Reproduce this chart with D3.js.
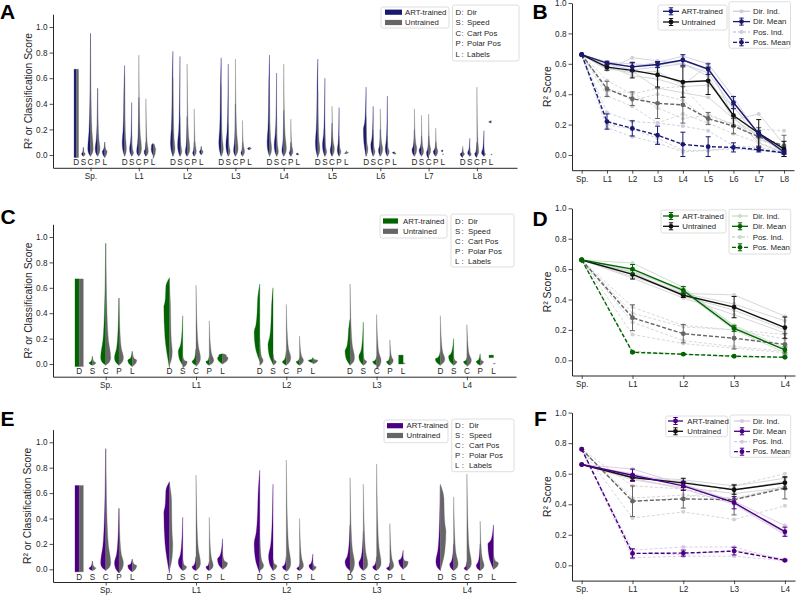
<!DOCTYPE html>
<html><head><meta charset="utf-8">
<script src="https://cdn.jsdelivr.net/npm/d3@7"></script>
<style>body{margin:0;background:#fff}</style>
</head><body><svg id="c" width="797" height="595" xmlns="http://www.w3.org/2000/svg"></svg>
<script>
// ---------------- DATA ----------------
const groupsA = ["Sp.","L1","L2","L3","L4","L5","L6","L7","L8"];
const groupsCE = ["Sp.","L1","L2","L3","L4"];
const featureCodes = ["D","S","C","P","L"];
const featureNames = ["Dir","Speed","Cart Pos","Polar Pos","Labels"];
const modelNames = ["ART-trained","Untrained"];
const yTickVals = [0,0.2,0.4,0.6,0.8,1.0];

// half-violin summaries: [low, high, mode, relative width, body fullness]
const SP_A = [[-0.02,0.67,0.1,0.75,1],[-0.01,0.06,0.01,0.6],[-0.01,0.95,0.05,0.9],[-0.01,0.52,0.05,0.8],[-0.02,0.10,0.03,0.8]];
const A_art = [SP_A,
 [[-0.01,0.70,0.1,0.8,0.2],[-0.01,0.41,0.05,0.7],[-0.01,0.45,0.03,0.7],[-0.01,0.10,0.03,0.6],[0.0,0.09,0.05,0.6,0.8]],
 [[-0.01,0.81,0.1,0.8,0.2],[-0.01,0.77,0.08,0.8],[-0.01,0.30,0.03,0.6],[-0.01,0.10,0.02,0.5],[0.0,0.07,0.03,0.6]],
 [[-0.01,0.76,0.1,0.8,0.2],[-0.01,0.71,0.08,0.8],[-0.01,0.40,0.04,0.6],[-0.01,0.10,0.02,0.5],[0.04,0.06,0.05,0.7]],
 [[-0.01,0.78,0.1,0.8,0.2],[-0.01,0.64,0.08,0.8],[-0.01,0.35,0.04,0.6],[-0.01,0.10,0.02,0.5],[0.0,0.015,0.008,0.6]],
 [[-0.02,0.75,0.1,0.8,0.2],[-0.01,0.60,0.08,0.8],[-0.01,0.25,0.04,0.6],[-0.01,0.37,0.04,0.6],[0.01,0.025,0.015,0.6]],
 [[-0.01,0.53,0.2,0.9],[-0.01,0.38,0.08,0.8],[-0.01,0.20,0.04,0.6],[-0.01,0.46,0.05,0.7],[0.01,0.025,0.018,0.7]],
 [[-0.01,0.20,0.04,0.8],[-0.01,0.15,0.04,0.8],[-0.03,0.15,0.02,0.7],[-0.01,0.10,0.03,0.8],[0.025,0.04,0.033,0.6]],
 [[-0.02,0.05,0.01,0.8],[-0.01,0.13,0.02,0.7],[-0.02,0.10,0.01,0.7],[-0.01,0.19,0.02,0.8],[0.25,0.27,0.26,0.8]]
];
const A_unt = [SP_A,
 [[-0.01,0.62,0.05,0.6],[-0.01,0.15,0.02,0.6],[-0.01,0.78,0.05,0.9],[-0.01,0.44,0.03,0.8],[-0.03,0.09,0.05,0.9,0.6]],
 [[-0.01,0.60,0.05,0.7],[-0.01,0.30,0.03,0.6],[-0.01,0.71,0.05,0.9],[-0.01,0.36,0.03,0.7],[0.0,0.06,0.03,0.6]],
 [[-0.01,0.55,0.05,0.7],[-0.01,0.25,0.03,0.6],[-0.01,0.75,0.05,0.9],[-0.01,0.27,0.03,0.7],[0.045,0.06,0.05,0.6]],
 [[-0.01,0.55,0.05,0.7],[-0.01,0.30,0.03,0.6],[-0.01,0.71,0.05,0.9],[-0.01,0.28,0.03,0.7],[0.0,0.01,0.005,0.4]],
 [[-0.01,0.50,0.05,0.7],[-0.01,0.20,0.03,0.6],[-0.01,0.38,0.05,0.8],[-0.01,0.15,0.03,0.6],[0.01,0.035,0.02,0.8]],
 [[-0.01,0.30,0.05,0.6],[-0.01,0.20,0.03,0.6],[-0.01,0.36,0.05,0.8],[-0.01,0.15,0.03,0.6],[0.005,0.02,0.012,0.5]],
 [[-0.01,0.36,0.05,0.8],[-0.01,0.31,0.03,0.7],[-0.01,0.32,0.04,0.7],[-0.01,0.21,0.03,0.7],[0.0,0.01,0.005,0.3]],
 [[-0.01,0.07,0.01,0.6],[-0.01,0.05,0.01,0.5],[-0.01,0.53,0.03,0.6],[-0.01,0.05,0.01,0.5],[0.0,0.008,0.004,0.4]]
];
const SP_C = [[-0.02,0.67,0.1,0.75,1],[-0.01,0.06,0.01,0.6],[-0.01,0.95,0.05,0.9],[-0.01,0.52,0.05,0.8],[-0.02,0.10,0.03,0.8]];
const C_art = [SP_C,
 [[-0.03,0.68,0.45,1.0,0.6],[-0.01,0.38,0.1,0.8],[-0.01,0.12,0.02,0.7],[-0.01,0.06,0.02,0.6],[0.0,0.08,0.05,0.9,0.7]],
 [[0.02,0.63,0.25,1.0,0.3],[0.0,0.60,0.15,0.9,0.2],[-0.01,0.10,0.02,0.7],[-0.01,0.05,0.02,0.6],[0.01,0.05,0.03,0.8]],
 [[-0.01,0.35,0.1,0.9,0.2],[-0.01,0.33,0.06,0.8],[-0.01,0.06,0.02,0.7],[-0.01,0.06,0.02,0.6],[0.0,0.07,0.04,0.8,1]],
 [[-0.01,0.10,0.04,0.9],[-0.01,0.20,0.06,0.9],[-0.01,0.05,0.02,0.6],[-0.01,0.08,0.02,0.7],[0.05,0.07,0.06,0.8,1]]
];
const C_unt = [SP_C,
 [[-0.01,0.62,0.1,0.5,0.3],[-0.03,0.06,0.02,0.8],[-0.02,0.62,0.05,0.8],[-0.01,0.34,0.03,0.8],[0.0,0.08,0.05,1.0,0.6]],
 [[-0.01,0.20,0.03,0.6],[-0.01,0.08,0.02,0.6],[-0.01,0.47,0.05,0.8],[-0.01,0.22,0.03,0.7],[0.0,0.05,0.03,0.9]],
 [[-0.01,0.63,0.05,0.8],[-0.01,0.08,0.02,0.6],[-0.04,0.39,0.03,0.8],[-0.01,0.19,0.03,0.6],[0.0,0.01,0.005,0.4]],
 [[-0.01,0.38,0.04,0.8],[-0.01,0.06,0.02,0.6],[-0.02,0.31,0.03,0.8],[-0.01,0.06,0.02,0.6],[0.0,0.005,0.003,0.4]]
];
const SP_E = [[-0.02,0.66,0.1,0.75,1],[-0.01,0.065,0.01,0.6],[-0.01,0.95,0.05,0.9],[-0.03,0.48,0.05,0.8],[-0.02,0.08,0.03,0.8]];
const E_art = [SP_E,
 [[-0.03,0.69,0.45,1.0,0.6],[-0.01,0.41,0.06,0.8],[-0.01,0.10,0.02,0.7],[-0.01,0.06,0.02,0.6],[0.0,0.24,0.08,0.9]],
 [[-0.03,0.78,0.2,1.0,0.2],[-0.01,0.67,0.1,0.8],[-0.01,0.10,0.02,0.7],[-0.01,0.04,0.01,0.5],[-0.01,0.12,0.03,0.7]],
 [[-0.01,0.35,0.06,0.9],[-0.01,0.30,0.05,0.8],[-0.01,0.10,0.02,0.7],[-0.01,0.05,0.01,0.6],[0.0,0.15,0.07,0.8]],
 [[-0.01,0.66,0.06,0.8],[-0.01,0.20,0.04,0.7],[-0.01,0.06,0.01,0.5],[-0.01,0.20,0.03,0.7],[0.0,0.35,0.2,1.0]]
];
const E_unt = [SP_E,
 [[-0.01,0.68,0.2,0.6,0.6],[-0.01,0.08,0.02,0.7],[-0.01,0.74,0.05,0.8],[-0.01,0.41,0.03,0.7],[0.0,0.12,0.05,0.9]],
 [[-0.01,0.25,0.03,0.7],[-0.01,0.08,0.03,0.7],[-0.02,0.86,0.05,0.8],[-0.01,0.40,0.03,0.7],[-0.01,0.05,0.02,0.6]],
 [[-0.04,0.72,0.05,0.8],[-0.01,0.67,0.04,0.8],[-0.01,0.83,0.05,0.8],[-0.01,0.36,0.03,0.7],[0.0,0.09,0.06,0.9]],
 [[-0.01,0.67,0.3,1.0,0.6],[-0.01,0.57,0.04,0.8],[-0.01,0.75,0.05,0.8],[-0.01,0.38,0.03,0.7],[0.0,0.12,0.05,0.9]]
];

// Panel B
const B_artDir = [0.66,0.605,0.58,0.595,0.625,0.565,0.345,0.14,0.02];
const B_artDirErr = [0,0.012,0.03,0.02,0.035,0.035,0.04,0.02,0.01];
const B_untDir = [0.66,0.578,0.557,0.527,0.48,0.488,0.26,0.143,0.04];
const B_untDirErr = [0,0.02,0.05,0.08,0.1,0.09,0.07,0.09,0.05];
const B_artPos = [0.66,0.22,0.175,0.13,0.07,0.055,0.05,0.035,0.015];
const B_artPosErr = [0,0.05,0.05,0.06,0.08,0.065,0.03,0.015,0.01];
const B_untPos = [0.66,0.435,0.37,0.34,0.33,0.24,0.19,0.12,0.06];
const B_untPosErr = [0,0.05,0.045,0.1,0.12,0.04,0.05,0.06,0.07];
const B_artDirInd = [[0.66,0.61,0.58,0.61,0.65,0.60,0.38,0.13,0.02],[0.66,0.60,0.56,0.58,0.60,0.54,0.31,0.15,0.03],[0.66,0.61,0.60,0.59,0.62,0.56,0.35,0.13,0.01]];
const B_untDirInd = [[0.66,0.56,0.64,0.62,0.60,0.52,0.23,0.27,0.07],[0.66,0.57,0.55,0.44,0.41,0.38,0.24,0.12,0.02],[0.66,0.59,0.52,0.50,0.45,0.46,0.32,0.10,0.06],[0.66,0.57,0.54,0.55,0.46,0.59,0.25,0.08,0.01]];
const B_artPosInd = [[0.66,0.28,0.22,0.21,0.19,0.16,0.06,0.05,0.02],[0.66,0.18,0.12,0.08,0.02,0.03,0.04,0.03,0.01],[0.66,0.20,0.17,0.11,0.03,0.03,0.05,0.03,0.02]];
const B_untPosInd = [[0.66,0.49,0.40,0.44,0.45,0.27,0.20,0.17,0.16],[0.66,0.39,0.32,0.21,0.27,0.21,0.14,0.08,0.02],[0.66,0.44,0.36,0.40,0.36,0.23,0.21,0.10,0.05],[0.66,0.42,0.41,0.31,0.24,0.26,0.20,0.14,0.03]];
// Panel D
const D_artDir = [0.66,0.60,0.46,0.21,0.068];
const D_artDirErr = [0,0.03,0.025,0.02,0.02];
const D_untDir = [0.66,0.565,0.428,0.35,0.215];
const D_untDirErr = [0,0.03,0.015,0.07,0.07];
const D_artPos = [0.66,0.053,0.04,0.027,0.02];
const D_artPosErr = [0,0.005,0.004,0.003,0.003];
const D_untPos = [0.66,0.28,0.175,0.145,0.105];
const D_untPosErr = [0,0.085,0.06,0.07,0.07];
const D_artDirInd = [[0.66,0.64,0.48,0.22,0.07],[0.66,0.59,0.45,0.20,0.05],[0.66,0.58,0.47,0.23,0.08]];
const D_untDirInd = [[0.66,0.55,0.44,0.43,0.29],[0.66,0.54,0.41,0.30,0.18],[0.66,0.58,0.42,0.33,0.20],[0.66,0.57,0.44,0.37,0.26]];
const D_artPosInd = [[0.66,0.06,0.04,0.03,0.02],[0.66,0.05,0.04,0.02,0.02]];
const D_untPosInd = [[0.66,0.35,0.23,0.20,0.17],[0.66,0.17,0.11,0.08,0.05],[0.66,0.31,0.22,0.20,0.14],[0.66,0.25,0.13,0.09,0.06]];
// Panel F
const F_artDir = [0.66,0.59,0.52,0.41,0.22];
const F_artDirErr = [0,0.04,0.03,0.04,0.03];
const F_untDir = [0.66,0.575,0.54,0.495,0.54];
const F_untDirErr = [0,0.02,0.03,0.03,0.04];
const F_artPos = [0.76,0.078,0.08,0.093,0.033];
const F_artPosErr = [0,0.03,0.02,0.025,0.005];
const F_untPos = [0.76,0.42,0.435,0.43,0.505];
const F_untPosErr = [0,0.1,0.06,0.1,0.07];
const F_artDirInd = [[0.66,0.63,0.53,0.42,0.26],[0.66,0.57,0.50,0.40,0.20],[0.66,0.60,0.53,0.41,0.21]];
const F_untDirInd = [[0.66,0.58,0.56,0.52,0.57],[0.66,0.56,0.51,0.47,0.51],[0.66,0.57,0.55,0.49,0.55]];
const F_artPosInd = [[0.76,0.10,0.12,0.12,0.03],[0.76,0.05,0.06,0.06,0.03],[0.76,0.08,0.07,0.10,0.04]];
const F_untPosInd = [[0.76,0.52,0.50,0.43,0.52],[0.76,0.31,0.35,0.30,0.39],[0.76,0.44,0.46,0.44,0.51],[0.76,0.42,0.44,0.52,0.60]];

// ---------------- DRAWING ----------------
const svg = d3.select("#c");
const FONT = '"Liberation Sans", Arial, sans-serif';
const INK = "#262626";
const FS = 8.2;
const LFS = 7.8;
const GRAY = "#666666";

function styleAxis(sel) {
  sel.selectAll("path.domain").attr("stroke", INK).attr("stroke-width", 1);
  sel.selectAll(".tick line").attr("stroke", INK).attr("stroke-width", 0.8);
  sel.selectAll(".tick text").attr("fill", INK).style("font-size", FS + "px").style("font-family", FONT);
}
function txt(x, y, s, opt = {}) {
  const t = svg.append("text").attr("x", x).attr("y", y).text(s)
    .style("font-family", FONT).style("font-size", (opt.fs || LFS) + "px")
    .attr("fill", opt.fill || INK);
  if (opt.anchor) t.attr("text-anchor", opt.anchor);
  if (opt.weight) t.style("font-weight", opt.weight);
  if (opt.baseline) t.attr("dominant-baseline", opt.baseline);
  if (opt.rotate) t.attr("transform", `rotate(-90,${x},${y})`);
  return t;
}
function box(x, y, w, h) {
  svg.append("rect").attr("x", x).attr("y", y).attr("width", w).attr("height", h)
    .attr("rx", 2).attr("fill", "#fff").attr("fill-opacity", 0.85)
    .attr("stroke", "#d6d6d6").attr("stroke-width", 0.8);
}

function profile(t) {
  const lo = t[0], hi = t[1], w = t[3], full = t[4] || 0;
  const m = Math.min(Math.max(t[2], lo), hi);
  if (full >= 1) return [[hi, w], [lo, w]];
  const pts = [[lo, 0]];
  if (m - lo > 0.006) pts.push([lo + (m - lo) * 0.5, w * 0.8]);
  pts.push([m, w]);
  const s = hi - m;
  if (s > 0.01) {
    const L = a => a + (1 - a) * full;
    pts.push([m + s * 0.15, w * L(0.55)], [m + s * 0.4, w * L(0.25)], [m + s * 0.7, w * L(0.1)]);
  }
  pts.push([hi, 0]);
  return pts.reverse();
}

function violinPanel(p) {
  const x = d3.scaleLinear().domain(p.xd).range(p.xr);
  const y = d3.scaleLinear().domain([-0.1, 1.1]).range(p.yr);
  const ya = svg.append("g").attr("transform", `translate(${p.xr[0]},0)`)
    .call(d3.axisLeft(y).tickValues(yTickVals).tickFormat(d3.format(".1f")).tickSize(3.5).tickPadding(2).tickSizeOuter(0));
  styleAxis(ya);
  const xa = svg.append("g").attr("transform", `translate(0,${p.yr[0]})`)
    .call(d3.axisBottom(x).tickValues(d3.range(p.groups.length)).tickFormat(i => p.groups[i]).tickSize(3.5).tickPadding(2).tickSizeOuter(0));
  styleAxis(xa);
  const off = 0.147;
  const vpx = Math.abs(x(off) - x(0));
  const wScale = 0.42 * vpx;
  const area = d3.area().curve(d3.curveMonotoneY).y(d => y(d[0]));
  const g = svg.append("g");
  p.groups.forEach((gn, gi) => {
    featureCodes.forEach((fc, fi) => {
      const cx = x(gi + (fi - 2) * off);
      const a = profile(p.art[gi][fi]);
      const u = profile(p.unt[gi][fi]);
      g.append("path").attr("d", area.x0(cx).x1(d => cx - d[1] * wScale)(a)).attr("fill", p.color).attr("stroke", p.color).attr("stroke-width", 0.3);
      g.append("path").attr("d", area.x0(cx).x1(d => cx + d[1] * wScale)(u)).attr("fill", GRAY).attr("stroke", GRAY).attr("stroke-width", 0.3);
      txt(cx, y(-0.062), fc, { anchor: "middle", baseline: "central", fs: 8.2 });
    });
  });
  txt(28, (p.yr[0] + p.yr[1]) / 2, "R² or Classification Score", { anchor: "middle", baseline: "central", rotate: true, fs: 10.3 });
  const L1 = p.leg1;
  box(L1.x, L1.y, L1.w, L1.h);
  [p.color, GRAY].forEach((c, i) => {
    svg.append("rect").attr("x", L1.sw[0]).attr("y", L1.rows[i] - 2.6).attr("width", L1.sw[1] - L1.sw[0]).attr("height", 5.2).attr("fill", c);
    txt(L1.tx, L1.rows[i], modelNames[i], { baseline: "central" });
  });
  const L2 = p.leg2;
  box(L2.x, L2.y, L2.w, L2.h);
  featureCodes.forEach((fc, i) => {
    txt(L2.lx, L2.rows[i], fc, { baseline: "central" });
    txt(L2.cx, L2.rows[i], ":", { baseline: "central" });
    txt(L2.nx, L2.rows[i], featureNames[i], { baseline: "central" });
  });
  txt(p.letter[0], p.letter[1], p.letter[2], { fs: 21, weight: "bold", fill: "#000" });
}

function linePanel(p) {
  const x = d3.scaleLinear().domain(p.xd).range(p.xr);
  const y = d3.scaleLinear().domain([-0.1, 1.0]).range(p.yr);
  const ya = svg.append("g").attr("transform", `translate(${p.xr[0]},0)`)
    .call(d3.axisLeft(y).tickValues(yTickVals).tickFormat(d3.format(".1f")).tickSize(3.5).tickPadding(2).tickSizeOuter(0));
  styleAxis(ya);
  const xa = svg.append("g").attr("transform", `translate(0,${p.yr[0]})`)
    .call(d3.axisBottom(x).tickValues(d3.range(p.labels.length)).tickFormat(i => p.labels[i]).tickSize(3.5).tickPadding(2).tickSizeOuter(0));
  styleAxis(xa);
  const light = d3.interpolateRgb(p.color, "#ffffff")(0.78);
  const grayLight = "#d2d2d2";
  const g = svg.append("g");
  const line = d3.line().x((d, i) => x(i)).y(d => y(d));
  function series(vals, color, dash, lw, r, err) {
    const path = g.append("path").attr("d", line(vals)).attr("fill", "none").attr("stroke", color).attr("stroke-width", lw);
    if (dash) path.attr("stroke-dasharray", dash);
    if (err) {
      vals.forEach((v, i) => {
        if (!err[i]) return;
        const cx = x(i), y0 = y(v - err[i]), y1 = y(v + err[i]);
        g.append("line").attr("x1", cx).attr("x2", cx).attr("y1", y0).attr("y2", y1).attr("stroke", color).attr("stroke-width", 1);
        [y0, y1].forEach(yy => g.append("line").attr("x1", cx - 2.5).attr("x2", cx + 2.5).attr("y1", yy).attr("y2", yy).attr("stroke", color).attr("stroke-width", 1));
      });
    }
    vals.forEach((v, i) => g.append("circle").attr("cx", x(i)).attr("cy", y(v)).attr("r", r).attr("fill", color));
  }
  p.untPosInd.forEach(v => series(v, grayLight, "3,2", 0.9, 2));
  p.artPosInd.forEach(v => series(v, light, "3,2", 0.9, 2));
  p.untDirInd.forEach(v => series(v, grayLight, null, 0.9, 2));
  p.artDirInd.forEach(v => series(v, light, null, 0.9, 2));
  series(p.untPos, GRAY, "4,2", 1.4, 2.4, p.untPosErr);
  series(p.untDir, "#111", null, 1.4, 2.4, p.untDirErr);
  series(p.artPos, p.color, "4,2", 1.4, 2.4, p.artPosErr);
  series(p.artDir, p.color, null, 1.4, 2.4, p.artDirErr);
  txt(548, (p.yr[0] + p.yr[1]) / 2, "R² Score", { anchor: "middle", baseline: "central", rotate: true, fs: 10.3 });
  function legItem(lx, row, tx, label, color, dash, r, err) {
    const x0 = lx[0], x1 = lx[1], xm = (x0 + x1) / 2;
    const l = svg.append("line").attr("x1", x0).attr("x2", x1).attr("y1", row).attr("y2", row).attr("stroke", color).attr("stroke-width", 1.3);
    if (dash) l.attr("stroke-dasharray", dash);
    if (err) {
      svg.append("line").attr("x1", xm).attr("x2", xm).attr("y1", row - 3.5).attr("y2", row + 3.5).attr("stroke", color).attr("stroke-width", 1);
      [-3.5, 3.5].forEach(d => svg.append("line").attr("x1", xm - 2.2).attr("x2", xm + 2.2).attr("y1", row + d).attr("y2", row + d).attr("stroke", color).attr("stroke-width", 1));
    }
    svg.append("circle").attr("cx", xm).attr("cy", row).attr("r", r).attr("fill", color);
    txt(tx, row, label, { baseline: "central" });
  }
  const b1 = p.leg1, b2 = p.leg2;
  box(b1.x, b1.y, b1.w, b1.h);
  legItem(b1.lx, b1.rows[0], b1.tx, modelNames[0], p.color, null, 2.4, true);
  legItem(b1.lx, b1.rows[1], b1.tx, modelNames[1], "#111", null, 2.4, true);
  box(b2.x, b2.y, b2.w, b2.h);
  legItem(b2.lx, b2.rows[0], b2.tx, "Dir. Ind.", light, null, 2, false);
  legItem(b2.lx, b2.rows[1], b2.tx, "Dir. Mean", p.color, null, 2.4, true);
  legItem(b2.lx, b2.rows[2], b2.tx, "Pos. Ind.", light, "3,2", 2, false);
  legItem(b2.lx, b2.rows[3], b2.tx, "Pos. Mean", p.color, "4,2", 2.4, true);
  txt(p.letter[0], p.letter[1], p.letter[2], { fs: 21, weight: "bold", fill: "#000" });
}

// ---------------- PANELS ----------------
violinPanel({
  groups: groupsA, art: A_art, unt: A_unt, color: "#191970",
  xd: [(53 - 90.5) / 48.3, (517 - 90.5) / 48.3], xr: [53, 517], yr: [167.8, 14.2],
  leg1: { x: 381, y: 7, w: 68, h: 21, rows: [12.2, 22.5], sw: [385, 402], tx: 405 },
  leg2: { x: 452.5, y: 5, w: 66.5, h: 56, rows: [12, 22.5, 33, 43.5, 54], lx: 455.5, cx: 461.5, nx: 467 },
  letter: [0, 18.5, "A"]
});
violinPanel({
  groups: groupsCE, art: C_art, unt: C_unt, color: "#006400",
  xd: [(53 - 105.7) / 90.3, (516 - 105.7) / 90.3], xr: [53, 516], yr: [376.7, 224.3],
  leg1: { x: 380, y: 215, w: 67, h: 23, rows: [221, 231.3], sw: [383, 398], tx: 403 },
  leg2: { x: 451, y: 214, w: 63, h: 53, rows: [221.5, 231, 241, 251, 261], lx: 455, cx: 461.5, nx: 468 },
  letter: [0.5, 223.5, "C"]
});
violinPanel({
  groups: groupsCE, art: E_art, unt: E_unt, color: "#4b0082",
  xd: [(53 - 105.7) / 90.3, (516 - 105.7) / 90.3], xr: [53, 516], yr: [582, 429.6],
  leg1: { x: 384, y: 420, w: 64, h: 22.7, rows: [425.7, 435.5], sw: [387, 403], tx: 406.5 },
  leg2: { x: 451.7, y: 419, w: 62.3, h: 52.7, rows: [425.7, 435.6, 445.6, 455.7, 465.7], lx: 455, cx: 461.7, nx: 469 },
  letter: [0.5, 425.5, "E"]
});
linePanel({
  labels: groupsA, color: "#191970",
  xd: [(572 - 581.7) / 25.29, (794 - 581.7) / 25.29], xr: [572, 794], yr: [170.2, 3.0],
  artDir: B_artDir, artDirErr: B_artDirErr, untDir: B_untDir, untDirErr: B_untDirErr,
  artPos: B_artPos, artPosErr: B_artPosErr, untPos: B_untPos, untPosErr: B_untPosErr,
  artDirInd: B_artDirInd, untDirInd: B_untDirInd, artPosInd: B_artPosInd, untPosInd: B_untPosInd,
  leg1: { x: 658, y: 5, w: 69, h: 25, rows: [11.3, 22], lx: [663, 679], tx: 681.5 },
  leg2: { x: 729, y: 1.7, w: 61.5, h: 46.6, rows: [11.3, 21.6, 32, 42.3], lx: [733, 750], tx: 753 },
  letter: [532.5, 18.5, "B"]
});
linePanel({
  labels: groupsCE, color: "#006400",
  xd: [(572 - 581.7) / 50.8, (795 - 581.7) / 50.8], xr: [572, 795], yr: [375.5, 208.3],
  artDir: D_artDir, artDirErr: D_artDirErr, untDir: D_untDir, untDirErr: D_untDirErr,
  artPos: D_artPos, artPosErr: D_artPosErr, untPos: D_untPos, untPosErr: D_untPosErr,
  artDirInd: D_artDirInd, untDirInd: D_untDirInd, artPosInd: D_artPosInd, untPosInd: D_untPosInd,
  leg1: { x: 661, y: 210, w: 65, h: 23, rows: [216, 226.3], lx: [663, 679], tx: 682.3 },
  leg2: { x: 729, y: 209.3, w: 61.7, h: 44.7, rows: [216, 226.3, 237, 247.3], lx: [732, 748], tx: 752.7 },
  letter: [532.5, 225.5, "D"]
});
linePanel({
  labels: groupsCE, color: "#4b0082",
  xd: [(572 - 581.7) / 50.8, (795 - 581.7) / 50.8], xr: [572, 795], yr: [580.6, 412.6],
  artDir: F_artDir, artDirErr: F_artDirErr, untDir: F_untDir, untDirErr: F_untDirErr,
  artPos: F_artPos, artPosErr: F_artPosErr, untPos: F_untPos, untPosErr: F_untPosErr,
  artDirInd: F_artDirInd, untDirInd: F_untDirInd, artPosInd: F_artPosInd, untPosInd: F_untPosInd,
  leg1: { x: 665.7, y: 416, w: 61.6, h: 20.7, rows: [421, 431.3], lx: [668, 683], tx: 687.3 },
  leg2: { x: 730, y: 415, w: 60.7, h: 42.3, rows: [421, 431.3, 441.7, 451.7], lx: [734, 750], tx: 752.7 },
  letter: [534, 425.5, "F"]
});
</script>
</body></html>
